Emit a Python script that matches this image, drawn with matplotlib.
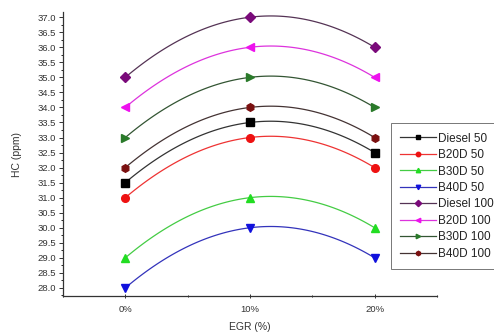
import numpy as np
import matplotlib
matplotlib.use("Agg")
import matplotlib.pyplot as plt
from matplotlib.ticker import MultipleLocator, FormatStrFormatter

plt.rcParams["font.family"] = ["Liberation Sans", "DejaVu Sans"]

# EGR levels and HC emissions (ppm)
egr_labels = ["0%", "10%", "20%"]
diesel_50 = [31.5, 33.5, 32.5]
b20d_50 = [31.0, 33.0, 32.0]
b30d_50 = [29.0, 31.0, 30.0]
b40d_50 = [28.0, 30.0, 29.0]
diesel_100 = [35.0, 37.0, 36.0]
b20d_100 = [34.0, 36.0, 35.0]
b30d_100 = [33.0, 35.0, 34.0]
b40d_100 = [32.0, 34.0, 33.0]

series = [
    ("Diesel 50", diesel_50, "#000000", "#333333", "s"),
    ("B20D 50", b20d_50, "#ee1111", "#ee3333", "o"),
    ("B30D 50", b30d_50, "#22dd22", "#44cc44", "^"),
    ("B40D 50", b40d_50, "#1111dd", "#3333bb", "v"),
    ("Diesel 100", diesel_100, "#7a0a7a", "#553355", "D"),
    ("B20D 100", b20d_100, "#ee11ee", "#dd33dd", "<"),
    ("B30D 100", b30d_100, "#2a7a2a", "#335533", ">"),
    ("B40D 100", b40d_100, "#7a1010", "#443333", "h"),
]

fig = plt.figure(figsize=(4.94, 3.36), dpi=100)
ax = fig.add_axes([0.1275, 0.119, 0.757, 0.845])

x = np.arange(len(egr_labels))
xs = np.linspace(0, 2, 100)
for name, vals, mcol, lcol, mk in series:
    # smooth spline-like connection through the three points
    coef = np.polyfit(x, vals, 2)
    ax.plot(xs, np.polyval(coef, xs), color=lcol, lw=0.9)
    ax.plot(x, vals, linestyle="none", marker=mk, color=mcol, ms=5.5)
    ax.plot([], [], color=lcol, lw=0.9, marker=mk, mfc=mcol, mec=mcol,
            ms=3.2, label=name)

ax.set_xlim(-0.5, 2.5)
ax.set_ylim(27.73, 37.17)
ax.set_xticks(x)
ax.set_xticklabels(egr_labels)
ax.xaxis.set_minor_locator(MultipleLocator(0.5))
ax.yaxis.set_major_locator(MultipleLocator(0.5))
ax.yaxis.set_major_formatter(FormatStrFormatter("%.1f"))
ax.yaxis.set_minor_locator(MultipleLocator(0.25))
ax.tick_params(labelsize=6.8, colors="#333333", width=0.7)
ax.tick_params(axis="y", which="major", length=3, direction="out", pad=2)
ax.tick_params(axis="y", which="minor", length=1.5, direction="out")
ax.tick_params(axis="x", which="major", length=3, direction="inout", pad=5)
ax.tick_params(axis="x", which="minor", length=2, direction="inout")

for side in ["top", "right"]:
    ax.spines[side].set_visible(False)
for side in ["left", "bottom"]:
    ax.spines[side].set_linewidth(0.9)
    ax.spines[side].set_color("#333333")

ax.set_xlabel("EGR (%)", fontsize=7.5, color="#333333", labelpad=6)
ax.set_ylabel("HC (ppm)", fontsize=7.5, color="#333333", labelpad=11)

leg = ax.legend(loc="upper left", bbox_to_anchor=(0.877, 0.609), fontsize=8.5,
                frameon=True, fancybox=False, edgecolor="#555555",
                handlelength=3.0, handletextpad=0.15, labelspacing=0.38,
                borderpad=0.8, borderaxespad=0, labelcolor="#222222")
leg.get_frame().set_linewidth(0.7)

fig.savefig("out.png", dpi=100)
